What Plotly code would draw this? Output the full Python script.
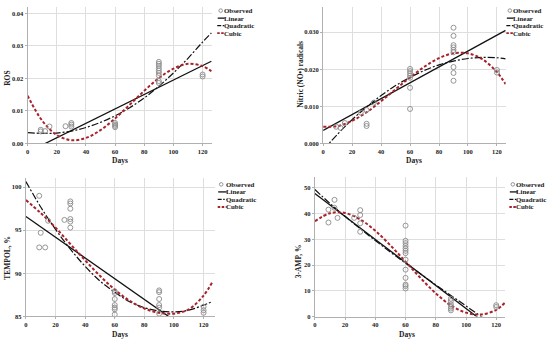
import plotly.graph_objects as go

W, H = 550, 345

# ---------------- data ----------------
curve_days = [0, 10, 20, 30, 40, 50, 60, 70, 80, 90, 100, 110, 120, 126]
line_days = [0, 126]

# ROS
ros_obs_days = [9, 9, 12, 15, 26, 30, 30, 30, 60, 60, 60, 60,
                90, 90, 90, 90, 90, 90, 90, 90, 90, 120, 120]
ros_obs = [0.0042, 0.0037, 0.0038, 0.0052, 0.0053, 0.0063, 0.0058, 0.0052,
           0.0063, 0.0058, 0.0054, 0.0050,
           0.0251, 0.0245, 0.0239, 0.0231, 0.0224, 0.0217, 0.0209, 0.0192, 0.0186,
           0.0212, 0.0206]
ros_linear = [-0.0027, 0.0253]
ros_quad = [0.0033, 0.0031, 0.0032, 0.0038, 0.0049, 0.0065, 0.0085, 0.0110,
            0.0140, 0.0176, 0.0217, 0.0262, 0.0312, 0.0340]
ros_cubic = [0.0147, 0.0070, 0.0026, 0.0010, 0.0017, 0.0041, 0.0077, 0.0119,
             0.0162, 0.0201, 0.0230, 0.0245, 0.0238, 0.0222]

# Nitric (NO•) radicals
no_obs_days = [9, 12, 15, 26, 30, 30, 30, 35,
               60, 60, 60, 60, 60, 60, 60,
               90, 90, 90, 90, 90, 90, 90, 90, 90, 120, 120]
no_obs = [0.0045, 0.0042, 0.0055, 0.0083, 0.0090, 0.0053, 0.0047, 0.0110,
          0.0201, 0.0195, 0.0189, 0.0183, 0.0177, 0.0150, 0.0093,
          0.0312, 0.0290, 0.0265, 0.0259, 0.0252, 0.0246, 0.0206, 0.0190, 0.0169,
          0.0198, 0.0191]
no_linear = [0.0035, 0.0305]
no_quad = [-0.0018, 0.0025, 0.0064, 0.0098, 0.0129, 0.0156, 0.0178, 0.0197,
           0.0212, 0.0222, 0.0229, 0.0232, 0.0231, 0.0228]
no_cubic = [0.0045, 0.0047, 0.0061, 0.0084, 0.0114, 0.0146, 0.0178, 0.0207,
            0.0230, 0.0243, 0.0243, 0.0227, 0.0192, 0.0160]

# TEMPOL, %
tp_obs_days = [9, 10, 9, 13, 15, 26, 30, 30, 30, 30, 30, 30,
               60, 60, 60, 60, 60, 60, 60, 90, 90, 90, 90, 90, 90, 120, 120, 120]
tp_obs = [99.0, 94.7, 93.0, 93.0, 96.1, 96.2, 98.35, 98.1, 97.5, 96.3, 96.0, 95.3,
          87.9, 87.7, 87.0, 86.3, 86.0, 85.8, 85.2,
          88.0, 87.8, 87.0, 86.3, 86.0, 85.3, 86.1, 85.7, 85.4]
tp_linear = [96.6, 81.4]
tp_quad = [100.65, 97.7, 95.1, 92.8, 90.8, 89.1, 87.8, 86.7, 86.0, 85.6,
           85.5, 85.7, 86.3, 86.7]
tp_cubic = [98.5, 97.0, 95.3, 93.4, 91.5, 89.7, 88.1, 86.8, 85.9, 85.4,
            85.3, 85.8, 87.4, 89.0]

# 3-AMP, %
am_obs_days = [9, 9, 13, 13, 15, 26, 30, 30, 30, 30,
               60, 60, 60, 60, 60, 60, 60, 60, 60, 60, 60, 60, 60,
               90, 90, 90, 90, 90, 90, 120, 120]
am_obs = [41.5, 36.5, 45.3, 42.2, 38.3, 38.3, 41.3, 39.4, 36.2, 32.9,
          35.3, 29.4, 28.5, 27.4, 26.4, 25.5, 24.6, 22.1, 18.2, 15.0, 12.4, 11.8, 10.9,
          6.9, 6.0, 4.7, 3.8, 3.1, 2.4, 4.4, 3.7]
am_linear = [47.8, -8.5]
am_quad = [49.3, 43.9, 38.9, 34.1, 29.5, 25.0, 20.7, 16.5, 12.3, 8.2,
           4.1, 0.0, -4.0, -6.4]
am_cubic = [37.0, 40.1, 40.2, 37.7, 33.3, 27.6, 21.3, 14.9, 9.0, 4.3,
            1.5, 0.8, 2.6, 5.5]

x_ticks = [0, 20, 40, 60, 80, 100, 120]
legend_labels = ["Observed", "Linear", "Quadratic", "Cubic"]

# ---------------- styling ----------------
FONT = "Liberation Serif"
BLACK = "#111111"
RED = "#a8222a"
GREY = "#8a8a8a"
GRID = "#dedede"


def PX(x):
    return x / W


def PY(y):
    return 1 - y / H


panels = [
    dict(obs_x=ros_obs_days, obs_y=ros_obs, lin=ros_linear, quad=ros_quad, cub=ros_cubic,
         xdom=(25.7, 211.0), ydom=(7.0, 144.7), xr=[0, 126.6], yr=[0, 0.042],
         ytick=[0, 0.01, 0.02, 0.03, 0.04], yfmt=".2f",
         ytitle="ROS", ytx=5.5, yty=79, xtitle_xy=(118, 162),
         leg=(219.5, 10.7, 224.0)),
    dict(obs_x=no_obs_days, obs_y=no_obs, lin=no_linear, quad=no_quad, cub=no_cubic,
         xdom=(322.3, 505.5), ydom=(7.0, 144.7), xr=[0, 126.0], yr=[0, 0.0368],
         ytick=[0, 0.01, 0.02, 0.03], yfmt=".3f",
         ytitle="Nitric (NO•) radicals", ytx=299.5, yty=75, xtitle_xy=(413.5, 162.3),
         leg=(509.7, 10.7, 514.0)),
    dict(obs_x=tp_obs_days, obs_y=tp_obs, lin=tp_linear, quad=tp_quad, cub=tp_cubic,
         xdom=(24.0, 213.3), ydom=(179.3, 319.0), xr=[0, 127.4], yr=[85, 101.1],
         ytick=[85, 90, 95, 100], yfmt="d",
         ytitle="TEMPOL, %", ytx=6, yty=260, xtitle_xy=(118.3, 337),
         leg=(220.0, 186.0, 226.0)),
    dict(obs_x=am_obs_days, obs_y=am_obs, lin=am_linear, quad=am_quad, cub=am_cubic,
         xdom=(314.0, 505.0), ydom=(179.0, 319.3), xr=[0, 125.9], yr=[0, 54],
         ytick=[0, 10, 20, 30, 40, 50], yfmt="d",
         ytitle="3-AMP, %", ytx=297.7, yty=264, xtitle_xy=(406.7, 337),
         leg=(512.7, 186.0, 517.8)),
]

fig = go.Figure()
annotations = []
shapes = []
layout_axes = {}

QUAD_DASH = "7px,2px,2px,2px"
CUB_DASH = "3px,2px"

for i, p in enumerate(panels, start=1):
    sx = "" if i == 1 else str(i)
    xa, ya = "x" + sx, "y" + sx
    fig.add_trace(go.Scatter(x=line_days, y=p["lin"], mode="lines", xaxis=xa, yaxis=ya,
                             line=dict(color=BLACK, width=1.3), showlegend=False))
    fig.add_trace(go.Scatter(x=curve_days, y=p["quad"], mode="lines", xaxis=xa, yaxis=ya,
                             line=dict(color=BLACK, width=1.2, dash=QUAD_DASH, shape="spline"),
                             showlegend=False))
    fig.add_trace(go.Scatter(x=curve_days, y=p["cub"], mode="lines", xaxis=xa, yaxis=ya,
                             line=dict(color=RED, width=2.0, dash=CUB_DASH, shape="spline"),
                             showlegend=False))
    fig.add_trace(go.Scatter(x=p["obs_x"], y=p["obs_y"], mode="markers", xaxis=xa, yaxis=ya,
                             marker=dict(symbol="circle-open", size=5, color=GREY,
                                         line=dict(width=0.9, color=GREY)),
                             cliponaxis=False, showlegend=False))

    tickfont = dict(family=FONT, size=6.5, color="#222", weight="bold")
    layout_axes["xaxis" + sx] = dict(
        domain=[PX(p["xdom"][0]), PX(p["xdom"][1])], range=p["xr"], anchor=ya,
        tickvals=x_ticks, showgrid=True, gridcolor=GRID, gridwidth=1, zeroline=False,
        showline=True, linecolor="#b0b0b0", linewidth=1, ticks="outside", ticklen=2,
        tickcolor="#b0b0b0", tickfont=tickfont, fixedrange=True)
    layout_axes["yaxis" + sx] = dict(
        domain=[PY(p["ydom"][1]), PY(p["ydom"][0])], range=p["yr"], anchor=xa,
        tickvals=p["ytick"], tickformat=p["yfmt"], showgrid=True, gridcolor=GRID,
        gridwidth=1, zeroline=False, showline=True, linecolor="#b0b0b0", linewidth=1,
        ticks="outside", ticklen=2, tickcolor="#b0b0b0", tickfont=tickfont, fixedrange=True)

    titlefont = dict(family=FONT, size=7.5, color="#222", weight="bold")
    annotations.append(dict(text=p["ytitle"], x=PX(p["ytx"]), y=PY(p["yty"]),
                            xref="paper", yref="paper", textangle=-90, showarrow=False,
                            xanchor="center", yanchor="middle", font=titlefont))
    annotations.append(dict(text="Days", x=PX(p["xtitle_xy"][0]), y=PY(p["xtitle_xy"][1]),
                            xref="paper", yref="paper", showarrow=False,
                            xanchor="center", yanchor="middle", font=titlefont))

    # manual legend
    sxc, sy0, tx = p["leg"]
    step = 7.6
    legfont = dict(family=FONT, size=6.9, color="#222", weight="bold")
    for k, lab in enumerate(legend_labels):
        yy = sy0 + k * step
        annotations.append(dict(text=lab, x=PX(tx - 1.5), y=PY(yy), xref="paper", yref="paper",
                                showarrow=False, xanchor="left", yanchor="middle",
                                borderpad=0, borderwidth=0, font=legfont))
    r = 1.8
    shapes.append(dict(type="circle", xref="paper", yref="paper",
                       x0=PX(sxc - r), x1=PX(sxc + r), y0=PY(sy0 + r), y1=PY(sy0 - r),
                       line=dict(color=GREY, width=0.9)))
    shapes.append(dict(type="line", xref="paper", yref="paper",
                       x0=PX(sxc - 3), x1=PX(tx - 0.5), y0=PY(sy0 + step), y1=PY(sy0 + step),
                       line=dict(color=BLACK, width=1.3)))
    shapes.append(dict(type="line", xref="paper", yref="paper",
                       x0=PX(sxc - 3.5), x1=PX(tx - 0.5), y0=PY(sy0 + 2 * step), y1=PY(sy0 + 2 * step),
                       line=dict(color=BLACK, width=1.2, dash="4px,1.5px,1.5px,1.5px")))
    shapes.append(dict(type="line", xref="paper", yref="paper",
                       x0=PX(sxc - 3.5), x1=PX(tx - 0.5), y0=PY(sy0 + 3 * step), y1=PY(sy0 + 3 * step),
                       line=dict(color=RED, width=1.8, dash="2.5px,1.5px")))

fig.update_layout(
    width=W, height=H, margin=dict(l=0, r=0, t=0, b=0),
    paper_bgcolor="white", plot_bgcolor="white",
    showlegend=False, annotations=annotations, shapes=shapes,
    font=dict(family=FONT),
    **layout_axes,
)

fig.write_html("out.html",
               config={"displayModeBar": False},
               post_script="document.body.style.margin='0px';document.body.style.overflow='hidden';")
